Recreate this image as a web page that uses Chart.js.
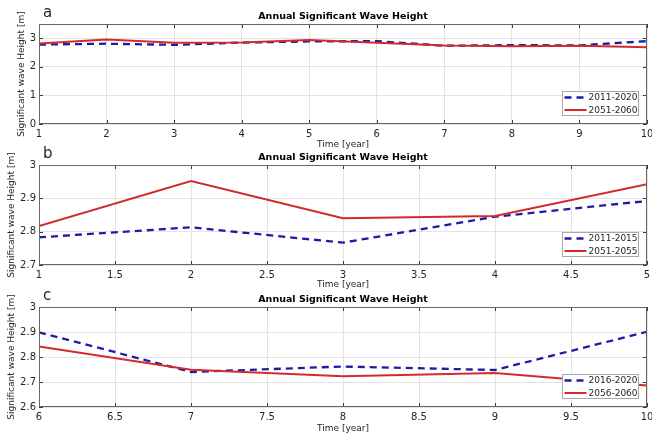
<!DOCTYPE html>
<html>
<head>
<meta charset="utf-8">
<script src="https://cdn.jsdelivr.net/npm/chart.js@4.4.1/dist/chart.umd.min.js"></script>
<style>
  html, body { margin: 0; padding: 0; background: #ffffff; }
  #wrap { position: relative; width: 652px; height: 435px; overflow: hidden; }
  canvas { position: absolute; left: 0; top: 0; }
</style>
</head>
<body>
<div id="wrap">
  <canvas id="cA" width="652" height="435"></canvas>
  <canvas id="cB" width="652" height="435"></canvas>
  <canvas id="cC" width="652" height="435"></canvas>
</div>
<script>
// ---------- data ----------
const chartTitle = "Annual Significant Wave Height";
const xTitle = "Time [year]";
const yTitle = "Significant wave Height [m]";

// panel a
const yearsA = [1, 2, 3, 4, 5, 6, 7, 8, 9, 10];
const blueA = [2.78, 2.81, 2.77, 2.85, 2.89, 2.90, 2.74, 2.76, 2.75, 2.90];
const redA  = [2.82, 2.96, 2.84, 2.85, 2.94, 2.84, 2.75, 2.72, 2.74, 2.69];
const legendA = ["2011-2020", "2051-2060"];

// panel b
const yearsB = [1, 2, 3, 4, 5];
const blueB = [2.783, 2.813, 2.767, 2.845, 2.892];
const redB  = [2.817, 2.952, 2.840, 2.847, 2.942];
const legendB = ["2011-2015", "2051-2055"];

// panel c
const yearsC = [6, 7, 8, 9, 10];
const blueC = [2.899, 2.740, 2.762, 2.748, 2.901];
const redC  = [2.842, 2.749, 2.723, 2.736, 2.686];
const legendC = ["2016-2020", "2056-2060"];

// ---------- styling ----------
const FONT = '"DejaVu Sans", "Liberation Sans", sans-serif';
const TXT = '#262626';
const BLUE = '#1c1ca6';
const RED = '#d42a2a';

const deco = {
  id: 'deco',
  afterDraw(chart, args, o) {
    const { ctx, chartArea: a, scales: { x, y } } = chart;
    ctx.save();
    // inner tick marks
    ctx.strokeStyle = '#3a3a3a';
    ctx.lineWidth = 1;
    ctx.beginPath();
    x.ticks.forEach(t => {
      const px = Math.round(x.getPixelForValue(t.value)) + 0.5;
      ctx.moveTo(px, a.bottom); ctx.lineTo(px, a.bottom - 4);
      ctx.moveTo(px, a.top); ctx.lineTo(px, a.top + 4);
    });
    y.ticks.forEach(t => {
      const py = Math.round(y.getPixelForValue(t.value)) + 0.5;
      ctx.moveTo(a.left, py); ctx.lineTo(a.left + 4, py);
      ctx.moveTo(a.right, py); ctx.lineTo(a.right - 4, py);
    });
    ctx.stroke();
    // frame
    ctx.strokeStyle = '#666666';
    ctx.strokeRect(Math.round(a.left) + 0.5, Math.round(a.top) + 0.5,
                   Math.round(a.right - a.left) - 1, Math.round(a.bottom - a.top) - 1);
    // title
    ctx.fillStyle = '#000';
    ctx.font = 'bold 9.5px ' + FONT;
    ctx.textAlign = 'center';
    ctx.textBaseline = 'middle';
    ctx.fillText(o.title, (a.left + a.right) / 2, a.top - 7);
    // panel letter
    ctx.font = '15px ' + FONT;
    ctx.fillStyle = TXT;
    ctx.textAlign = 'left';
    ctx.textBaseline = 'alphabetic';
    ctx.fillText(o.letter, 43, o.letterY);
    // legend
    const bw = 76, bh = 24;
    const bx = Math.round(a.right - 9 - bw) + 0.5, by = Math.round(a.bottom - 9 - bh) + 0.5;
    ctx.fillStyle = '#ffffff';
    ctx.fillRect(bx, by, bw, bh);
    ctx.strokeStyle = '#a8a8a8';
    ctx.lineWidth = 1;
    ctx.strokeRect(bx, by, bw, bh);
    ctx.font = '9px ' + FONT;
    ctx.textBaseline = 'middle';
    chart.data.datasets.forEach((ds, i) => {
      const ry = by + 6 + i * 12.5;
      ctx.save();
      ctx.strokeStyle = ds.borderColor;
      ctx.lineWidth = ds.borderWidth;
      ctx.setLineDash(ds.borderDash || []);
      ctx.beginPath();
      ctx.moveTo(bx + 2, ry); ctx.lineTo(bx + 24, ry);
      ctx.stroke();
      ctx.restore();
      ctx.fillStyle = TXT;
      ctx.fillText(ds.label, bx + 26, ry + 0.5);
    });
    ctx.restore();
  }
};

function fmt(v) { return String(+(+v).toFixed(2)); }

function makeChart(id, years, blue, red, labels, opt) {
  const toPts = (arr) => arr.map((v, i) => ({ x: years[i], y: v }));
  return new Chart(document.getElementById(id), {
    type: 'line',
    data: {
      datasets: [
        { label: labels[0], data: toPts(blue), borderColor: BLUE, borderWidth: 2.3,
          borderDash: [7, 5], pointRadius: 0, tension: 0, fill: false, order: 2 },
        { label: labels[1], data: toPts(red), borderColor: RED, borderWidth: 2,
          pointRadius: 0, tension: 0, fill: false, order: 1 }
      ]
    },
    options: {
      responsive: false,
      animation: false,
      events: [],
      layout: { padding: { left: 0, right: 5, top: opt.top, bottom: opt.padBottom } },
      plugins: {
        legend: { display: false },
        title: { display: false },
        tooltip: { enabled: false },
        deco: { title: chartTitle, letter: opt.letter, letterY: opt.letterY }
      },
      scales: {
        x: {
          type: 'linear', min: opt.xmin, max: opt.xmax,
          afterFit: s => { s.height = opt.xh; s.paddingLeft = 0; s.paddingRight = 0; },
          border: { display: false },
          grid: { color: '#e4e4e4', drawTicks: false },
          ticks: { stepSize: opt.xstep, autoSkip: false, maxRotation: 0, padding: 4,
                   color: TXT, font: { family: FONT, size: 10 }, callback: fmt },
          title: { display: true, text: xTitle, color: TXT, padding: 0,
                   font: { family: FONT, size: 9 } }
        },
        y: {
          min: opt.ymin, max: opt.ymax,
          afterFit: s => { s.width = 39; s.paddingTop = 0; s.paddingBottom = 0; },
          border: { display: false },
          grid: { color: '#e4e4e4', drawTicks: false },
          ticks: { stepSize: opt.ystep, includeBounds: false, padding: 3,
                   color: TXT, font: { family: FONT, size: 10 }, callback: fmt },
          title: { display: true, text: yTitle, color: TXT,
                   padding: { top: opt.ytPad, bottom: 0 },
                   font: { family: FONT, size: 9 } }
        }
      }
    },
    plugins: [deco]
  });
}

makeChart('cA', yearsA, blueA, redA, legendA, {
  top: 24, padBottom: 285, xh: 26, xmin: 1, xmax: 10, xstep: 1,
  ymin: 0, ymax: 3.5, ystep: 1, ytPad: 16, letter: 'a', letterY: 16.5
});
makeChart('cB', yearsB, blueB, redB, legendB, {
  top: 165, padBottom: 145, xh: 25, xmin: 1, xmax: 5, xstep: 0.5,
  ymin: 2.7, ymax: 3, ystep: 0.1, ytPad: 6.5, letter: 'b', letterY: 158
});
makeChart('cC', yearsC, blueC, redC, legendC, {
  top: 307, padBottom: 1, xh: 27, xmin: 6, xmax: 10, xstep: 0.5,
  ymin: 2.6, ymax: 3, ystep: 0.1, ytPad: 6.5, letter: 'c', letterY: 300
});
</script>
</body>
</html>
